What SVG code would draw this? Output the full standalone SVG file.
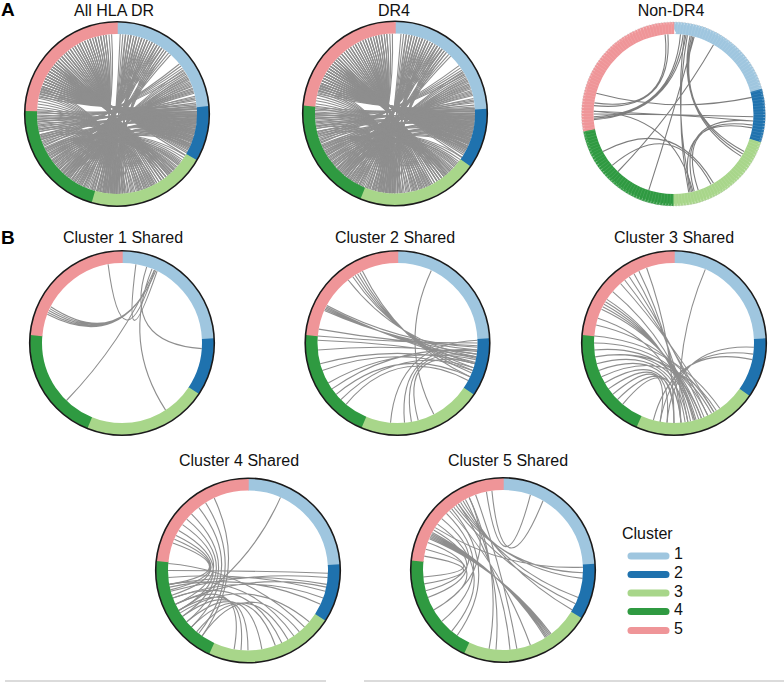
<svg xmlns="http://www.w3.org/2000/svg" width="784" height="682" viewBox="0 0 784 682">
<style>
.t{font-family:"Liberation Sans",Arial,sans-serif;font-size:16px;fill:#111;text-anchor:middle}
.lab{font-family:"Liberation Sans",Arial,sans-serif;font-size:19px;font-weight:bold;fill:#000}
.lg{font-family:"Liberation Sans",Arial,sans-serif;font-size:16px;fill:#111}
.seg{fill:none;stroke-width:12}
.s1{stroke:#9fc6df}.s2{stroke:#1f72ae}.s3{stroke:#a8d68a}.s4{stroke:#2f9a41}.s5{stroke:#ef9598}
.rim{fill:none;stroke:#1a1a1a;stroke-width:1.6}
.ch{fill:none;stroke:#8e8e8e;stroke-width:1.1}
.chn{fill:none;stroke:#7d7d7d;stroke-width:1.1}
.leg{stroke-width:7;stroke-linecap:round}
</style>
<defs>
<g id="chBase">
<path d="M-76.1 -24.7Q0 0 80 0M-75.2 -27.4Q0 0 79.9 4.2M-74.1 -30Q0 0 79.6 8.4M-73.1 -32.5Q0 0 79 12.5M-71.9 -35.1Q0 0 78.3 16.6M-70.6 -37.6Q0 0 77.3 20.7M-69.3 -40Q0 0 76.1 24.7M-67.8 -42.4Q0 0 74.7 28.7M-76.9 -22.1Q0 0 79.9 -4.2M-66.3 -44.7Q0 0 73.1 32.5M-64.7 -47Q0 0 71.3 36.3"/>
<path d="M-63 -49.3Q0 0 53.5 59.5M-59.5 -53.5Q0 0 49.3 63M-55.5 -57.5Q0 0 44.7 66.3M-51.4 -61.3Q0 0 40 69.3M-47 -64.7Q0 0 32.5 73.1M-42.4 -67.8Q0 0 27.4 75.2M-37.6 -70.6Q0 0 19.4 77.6"/>
<path d="M-32.5 -73.1Q0 0 2.8 80M-27.4 -75.2Q0 0 -2.8 80M-22.1 -76.9Q0 0 -8.4 79.6M-16.6 -78.3Q0 0 -13.9 78.8M-11.1 -79.2Q0 0 -19.4 77.6"/>
<path d="M-45.9 65.5Q0 0 75.2 27.4M-56.6 56.6Q0 0 77.3 20.7M-65.5 45.9Q0 0 78.8 13.9M-72.5 33.8Q0 0 79.7 7M-77.3 20.7Q0 0 80 2.8M-79.2 11.1Q0 0 80 -2.8M-80 2.8Q0 0 79.2 -11.1"/>
<path d="M-37.6 70.6Q0 0 72.5 -33.8M-49.3 63Q0 0 69.3 -40M-61.3 51.4Q0 0 75.2 -27.4M-69.3 40Q0 0 77.3 -20.7M-75.2 27.4Q0 0 65.5 -45.9"/>
<path d="M8.4 -79.6Q0 0 -13.9 78.8M13.9 -78.8Q0 0 -7 79.7M19.4 -77.6Q0 0 -27.4 75.2M24.7 -76.1Q0 0 5.6 79.8M30 -74.1Q0 0 -40 69.3M35.1 -71.9Q0 0 -20.7 77.3M40 -69.3Q0 0 -51.4 61.3M44.7 -66.3Q0 0 0 80M49.3 -63Q0 0 -33.8 72.5"/>
<path d="M51.4 61.3Q0 0 -79.7 7M33.8 72.5Q0 0 -79.7 -7M20.7 77.3Q0 0 -77.3 -20.7M7 79.7Q0 0 -77.3 20.7M-7 79.7Q0 0 -69.3 40M-51.4 61.3Q0 0 61.3 51.4M-61.3 51.4Q0 0 56.6 56.6M-69.3 40Q0 0 65.5 45.9"/>
</g>
<g id="chDense" class="ch">
<use href="#chBase"/>
<use href="#chBase" transform="rotate(2.2)"/>
<use href="#chBase" transform="rotate(-1.8)"/>
<use href="#chBase" transform="rotate(4.1)"/>
<use href="#chBase" transform="rotate(-3.7)"/>
</g>
</defs>
<rect width="784" height="682" fill="#fff"/>

<text class="lab" x="1" y="16">A</text>
<text class="lab" x="1" y="244">B</text>

<!-- Panel A: All HLA DR -->
<g id="all-hla-dr">
<text class="t" x="114" y="16">All HLA DR</text>
<g transform="translate(117 114)">
<g id="connectors-all"><use href="#chDense"/></g>
<circle class="seg s1" r="86" pathLength="360" stroke-dasharray="85.5 274.5" stroke-dashoffset="90"/>
<circle class="seg s2" r="86" pathLength="360" stroke-dasharray="35.5 324.5" stroke-dashoffset="5"/>
<circle class="seg s3" r="86" pathLength="360" stroke-dasharray="76.5 283.5" stroke-dashoffset="330"/>
<circle class="seg s4" r="86" pathLength="360" stroke-dasharray="76.5 283.5" stroke-dashoffset="254"/>
<circle class="seg s5" r="86" pathLength="360" stroke-dasharray="88.5 271.5" stroke-dashoffset="178"/>
<circle class="rim" r="92.3"/>
</g>
</g>

<!-- Panel A: DR4 -->
<g id="dr4">
<text class="t" x="394" y="16">DR4</text>
<g transform="translate(395 113.5)">
<g id="connectors-dr4"><use href="#chDense" transform="rotate(2)"/></g>
<circle class="seg s1" r="86" pathLength="360" stroke-dasharray="87.5 272.5" stroke-dashoffset="90"/>
<circle class="seg s2" r="86" pathLength="360" stroke-dasharray="38.5 321.5" stroke-dashoffset="3"/>
<circle class="seg s3" r="86" pathLength="360" stroke-dasharray="77.5 282.5" stroke-dashoffset="325"/>
<circle class="seg s4" r="86" pathLength="360" stroke-dasharray="73.5 286.5" stroke-dashoffset="248"/>
<circle class="seg s5" r="86" pathLength="360" stroke-dasharray="85.5 274.5" stroke-dashoffset="175"/>
<circle class="rim" r="92.3"/>
</g>
</g>

<!-- Panel A: Non-DR4 -->
<g id="non-dr4">
<text class="t" x="671" y="16">Non-DR4</text>
<g transform="translate(673.5 114)">
<g id="connectors-nondr4" class="chn">
<path d="M-8.4 -79.6Q0 0 -79.2 -11.1M-5.6 -79.8Q0 0 -79.6 -8.4M7 -79.7Q0 0 -80 2.8M9.7 -79.4Q0 0 -79.9 4.2M12.5 -79Q0 0 -79.8 5.6"/>
<path d="M11.1 -79.2Q0 0 18 77.9M13.9 -78.8Q0 0 15.3 78.5M40 -69.3Q0 0 -55.5 57.5M-77.3 -20.7Q0 0 78.3 -16.6"/>
<path d="M-80 0Q0 0 80 2.8M-79.9 -2.8Q0 0 79.7 7M79.7 7Q0 0 20.7 77.3M79.2 11.1Q0 0 24.7 76.1M78.8 13.9Q0 0 16.6 78.3"/>
<path d="M70.6 37.6Q0 0 16.6 -78.3M69.3 40Q0 0 19.4 -77.6M67.8 42.4Q0 0 18 -77.9M-70.6 37.6Q0 0 40 69.3M-24.7 76.1Q0 0 20.7 -77.3M19.4 77.6Q0 0 -79.9 -2.8M-61.3 51.4Q0 0 37.6 70.6"/>
</g>
<circle class="seg s1" r="86" pathLength="360" stroke-dasharray="74.5 285.5" stroke-dashoffset="90"/>
<circle class="seg s2" r="86" pathLength="360" stroke-dasharray="34.5 325.5" stroke-dashoffset="16"/>
<circle class="seg s3" r="86" pathLength="360" stroke-dasharray="72.5 287.5" stroke-dashoffset="342"/>
<circle class="seg s4" r="86" pathLength="360" stroke-dasharray="79.5 280.5" stroke-dashoffset="270"/>
<circle class="seg s5" r="86" pathLength="360" stroke-dasharray="101.5 258.5" stroke-dashoffset="191"/>
<circle r="86" fill="none" stroke="#fff" stroke-opacity="0.12" stroke-width="12" stroke-dasharray="0.7 2.3"/>
<circle r="90.8" fill="none" stroke="#fff" stroke-opacity="0.35" stroke-width="2.2" stroke-dasharray="0.8 2.2"/>
<circle r="92" fill="none" stroke="#bbb" stroke-width="0.7" stroke-dasharray="1 2"/>
</g>
</g>

<!-- Panel B: Cluster 1 Shared -->
<g id="cluster1-shared">
<text class="t" x="123" y="243">Cluster 1 Shared</text>
<g transform="translate(122 343)">
<g id="connectors-c1" class="ch">
<path d="M-74.7 -28.7Q0 10 33.8 -72.5M-73.9 -30.6Q0 10 33.8 -72.5M-73.1 -32.5Q0 10 33.8 -72.5M-72.2 -34.4Q0 10 33.8 -72.5M-71.3 -36.3Q0 10 33.8 -72.5"/>
<path d="M-13.9 -78.8Q0 30 32.5 -73.1M13.9 -78.8Q0 30 35.1 -71.9"/>
<path d="M32.5 -73.1Q0 0 -55.5 57.5M30 -74.1Q0 0 43.6 67.1M24.7 -76.1Q0 0 79.8 5.6"/>
</g>
<circle class="seg s1" r="86" pathLength="360" stroke-dasharray="87.5 272.5" stroke-dashoffset="90"/>
<circle class="seg s2" r="86" pathLength="360" stroke-dasharray="37 323" stroke-dashoffset="3"/>
<circle class="seg s3" r="86" pathLength="360" stroke-dasharray="79 281" stroke-dashoffset="326.5"/>
<circle class="seg s4" r="86" pathLength="360" stroke-dasharray="73.5 286.5" stroke-dashoffset="248"/>
<circle class="seg s5" r="86" pathLength="360" stroke-dasharray="85.5 274.5" stroke-dashoffset="175"/>
<circle class="rim" r="92.3"/>
</g>
</g>

<!-- Panel B: Cluster 2 Shared -->
<g id="cluster2-shared">
<text class="t" x="395" y="243">Cluster 2 Shared</text>
<g transform="translate(397.5 343)">
<g id="connectors-c2" class="ch">
<path d="M-73.1 -32.5Q0 0 79.7 7M-72.5 -33.8Q0 0 79.2 11.1M-71.9 -35.1Q0 0 78.5 15.3M-71.3 -36.3Q0 0 77.6 19.4M-70.6 -37.6Q0 0 79.9 4.2"/>
<path d="M-44.7 -66.3Q0 0 77.3 20.7M-42.4 -67.8Q0 0 76.1 24.7M-40 -69.3Q0 0 75.2 27.4M-37.6 -70.6Q0 0 74.2 30M-35.1 -71.9Q0 0 72.5 33.8M-49.3 -63Q0 0 78.8 13.9"/>
<path d="M-78.8 -13.9Q0 0 80 2.8M-79.7 -7Q0 0 80 0M-79.9 -2.8Q0 0 78.8 13.9M-79.7 7Q0 0 79.2 11.1M-77.3 20.7Q0 0 77.3 20.7M-75.2 27.4Q0 0 75.2 27.4M-69.3 40Q0 0 78.3 16.6M-61.3 51.4Q0 0 72.5 33.8M-56.6 56.6Q0 0 76.1 24.7M-51.4 61.3Q0 0 70.6 37.6M-65.5 45.9Q0 0 79.6 8.4"/>
<path d="M33.8 -72.5Q0 0 36.3 71.3M7 79.7Q0 0 79.7 7M13.9 78.8Q0 0 78.8 13.9M20.7 77.3Q0 0 77.3 20.7M-7 79.7Q0 0 80 -2.8"/>
</g>
<circle class="seg s1" r="86" pathLength="360" stroke-dasharray="87.5 272.5" stroke-dashoffset="90"/>
<circle class="seg s2" r="86" pathLength="360" stroke-dasharray="37.5 322.5" stroke-dashoffset="3"/>
<circle class="seg s3" r="86" pathLength="360" stroke-dasharray="79.5 280.5" stroke-dashoffset="326"/>
<circle class="seg s4" r="86" pathLength="360" stroke-dasharray="72.5 287.5" stroke-dashoffset="247"/>
<circle class="seg s5" r="86" pathLength="360" stroke-dasharray="85.5 274.5" stroke-dashoffset="175"/>
<circle class="rim" r="92.3"/>
</g>
</g>

<!-- Panel B: Cluster 3 Shared -->
<g id="cluster3-shared">
<text class="t" x="674" y="243">Cluster 3 Shared</text>
<g transform="translate(674 343)">
<g id="connectors-c3" class="ch">
<path d="M-72.5 -33.8Q0 0 27.4 75.2M-71.3 -36.3Q0 0 24.7 76.1M-70 -38.8Q0 0 22.1 76.9M-68.6 -41.2Q0 0 19.4 77.6M-67.1 -43.6Q0 0 16.6 78.3"/>
<path d="M-53.5 -59.5Q0 0 40 69.3M-49.3 -63Q0 0 33.8 72.5M-44.7 -66.3Q0 0 30 74.1M-40 -69.3Q0 0 13.9 78.8M-35.1 -71.9Q0 0 7 79.7M-27.4 -75.2Q0 0 0 80M-61.3 -51.4Q0 0 20.7 77.3"/>
<path d="M-79.7 -7Q0 0 45.9 65.5M-80 0Q0 0 33.8 72.5M-79.7 7Q0 0 27.4 75.2M-78.8 13.9Q0 0 20.7 77.3M-77.3 20.7Q0 0 13.9 78.8M-75.2 27.4Q0 0 7 79.7M-69.3 40Q0 0 0 80M-65.5 45.9Q0 0 -7 79.7M-61.3 51.4Q0 0 -13.9 78.8M-56.6 56.6Q0 0 7 79.7M-51.4 61.3Q0 0 0 80M-72.5 33.8Q0 0 42.4 67.8M-78.8 13.9Q0 0 37.6 70.6"/>
<path d="M-77.9 -18Q0 0 40 69.3M-76.1 -24.7Q0 0 11.1 79.2M31.3 -73.6Q0 0 7 79.7M79.9 4.2Q0 0 -7 79.7M79.2 11.1Q0 0 -13.9 78.8M78.3 16.6Q0 0 -20.7 77.3"/>
</g>
<circle class="seg s1" r="86" pathLength="360" stroke-dasharray="87.5 272.5" stroke-dashoffset="90"/>
<circle class="seg s2" r="86" pathLength="360" stroke-dasharray="38.5 321.5" stroke-dashoffset="3"/>
<circle class="seg s3" r="86" pathLength="360" stroke-dasharray="79.5 280.5" stroke-dashoffset="325"/>
<circle class="seg s4" r="86" pathLength="360" stroke-dasharray="71.5 288.5" stroke-dashoffset="246"/>
<circle class="seg s5" r="86" pathLength="360" stroke-dasharray="85.5 274.5" stroke-dashoffset="175"/>
<circle class="rim" r="92.3"/>
</g>
</g>

<!-- Panel B: Cluster 4 Shared -->
<g id="cluster4-shared">
<text class="t" x="239" y="466">Cluster 4 Shared</text>
<g transform="translate(248 570.5)">
<g id="connectors-c4" class="ch">
<path d="M-69.3 -40Q0 0 -69.3 40M-65.5 -45.9Q0 0 -72.5 33.8M-61.3 -51.4Q0 0 -65.5 45.9M-56.6 -56.6Q0 0 -61.3 51.4M-49.3 -63Q0 0 -56.6 56.6M-42.4 -67.8Q0 0 -49.3 63M-33.8 -72.5Q0 0 -45.9 65.5M-71.9 -35.1Q0 0 -76.1 24.7M-75.2 -27.4Q0 0 -78.8 13.9M-73.6 -31.3Q0 0 -77.6 19.4"/>
<path d="M-77.3 20.7Q0 0 79.7 7M-78.8 13.9Q0 0 78.8 13.9M-79.7 7Q0 0 77.3 20.7M-75.2 27.4Q0 0 75.2 27.4M-80 0Q0 0 80 2.8M-78.3 16.6Q0 0 72.5 33.8M-72.5 33.8Q0 0 78.3 16.6"/>
<path d="M-51.4 61.3Q0 0 40 69.3M-56.6 56.6Q0 0 27.4 75.2M-61.3 51.4Q0 0 13.9 78.8M-65.5 45.9Q0 0 0 80M-69.3 40Q0 0 -7 79.7M-72.5 33.8Q0 0 -13.9 78.8M-45.9 65.5Q0 0 51.4 61.3M-78.8 13.9Q0 0 45.9 65.5M-75.2 27.4Q0 0 33.8 72.5M-67.8 42.4Q0 0 61.3 51.4M-79.7 -7Q0 0 56.6 56.6"/>
<path d="M32.5 -73.1Q0 0 -69.3 40"/>
</g>
<circle class="seg s1" r="86" pathLength="360" stroke-dasharray="86.5 273.5" stroke-dashoffset="90"/>
<circle class="seg s2" r="86" pathLength="360" stroke-dasharray="37.5 322.5" stroke-dashoffset="4"/>
<circle class="seg s3" r="86" pathLength="360" stroke-dasharray="82.5 277.5" stroke-dashoffset="327"/>
<circle class="seg s4" r="86" pathLength="360" stroke-dasharray="71.5 288.5" stroke-dashoffset="245"/>
<circle class="seg s5" r="86" pathLength="360" stroke-dasharray="84.5 275.5" stroke-dashoffset="174"/>
<circle class="rim" r="92.3"/>
</g>
</g>

<!-- Panel B: Cluster 5 Shared -->
<g id="cluster5-shared">
<text class="t" x="508" y="466">Cluster 5 Shared</text>
<g transform="translate(503 570)">
<g id="connectors-c5" class="ch">
<path d="M-73.6 -31.3Q0 0 48.1 63.9M-73.1 -32.5Q0 0 47 64.7M-72.5 -33.8Q0 0 45.9 65.5M-71.9 -35.1Q0 0 44.7 66.3M-71.3 -36.3Q0 0 43.6 67.1M-70.6 -37.6Q0 0 42.4 67.8"/>
<path d="M-47 -64.7Q0 0 80 2.8M-44.7 -66.3Q0 0 79.6 8.4M-42.4 -67.8Q0 0 75.2 27.4M-49.3 -63Q0 0 72.5 33.8M-40 -69.3Q0 0 69.3 40M-67.8 -42.4Q0 0 80 -2.8"/>
<path d="M-37.6 -70.6Q0 0 -7 79.7M-33.8 -72.5Q0 0 -13.9 78.8M-44.7 -66.3Q0 0 7 79.7M-27.4 -75.2Q0 0 13.9 78.8M-53.5 -59.5Q0 0 27.4 75.2"/>
<path d="M-16.6 -78.3Q0 30 27.4 -75.2M-11.1 -79.2Q0 30 40 -69.3"/>
<path d="M-75.2 -27.4Q0 0 -69.3 40M-69.3 -40Q0 0 -75.2 27.4M-56.6 -56.6Q0 0 -61.3 51.4M-77.3 -20.7Q0 0 -79.7 7M-65.5 -45.9Q0 0 -51.4 61.3M-61.3 -51.4Q0 0 -77.3 20.7M-51.4 -61.3Q0 0 -45.9 65.5M-78.8 -13.9Q0 0 -78.8 13.9M-33.8 -72.5Q0 0 -69.3 40"/>
</g>
<circle class="seg s1" r="86" pathLength="360" stroke-dasharray="86.5 273.5" stroke-dashoffset="90"/>
<circle class="seg s2" r="86" pathLength="360" stroke-dasharray="36 324" stroke-dashoffset="4"/>
<circle class="seg s3" r="86" pathLength="360" stroke-dasharray="84 276" stroke-dashoffset="328.5"/>
<circle class="seg s4" r="86" pathLength="360" stroke-dasharray="71.5 288.5" stroke-dashoffset="245"/>
<circle class="seg s5" r="86" pathLength="360" stroke-dasharray="84.5 275.5" stroke-dashoffset="174"/>
<circle class="rim" r="92.3"/>
</g>
</g>

<!-- Legend -->
<g id="legend">
<text class="lg" x="622" y="539">Cluster</text>
<line class="leg s1" x1="631" y1="556" x2="666" y2="556"/>
<line class="leg s2" x1="631" y1="574.5" x2="666" y2="574.5"/>
<line class="leg s3" x1="631" y1="593" x2="666" y2="593"/>
<line class="leg s4" x1="631" y1="611.5" x2="666" y2="611.5"/>
<line class="leg s5" x1="631" y1="630.5" x2="666" y2="630.5"/>
<text class="lg" x="674" y="559">1</text>
<text class="lg" x="674" y="578">2</text>
<text class="lg" x="674" y="596.5">3</text>
<text class="lg" x="674" y="615">4</text>
<text class="lg" x="674" y="634">5</text>
</g>

<line x1="5" y1="681" x2="326" y2="681" stroke="#cfcfcf" stroke-width="1.5"/>
<line x1="364" y1="681" x2="784" y2="681" stroke="#cfcfcf" stroke-width="1.5"/>
</svg>
